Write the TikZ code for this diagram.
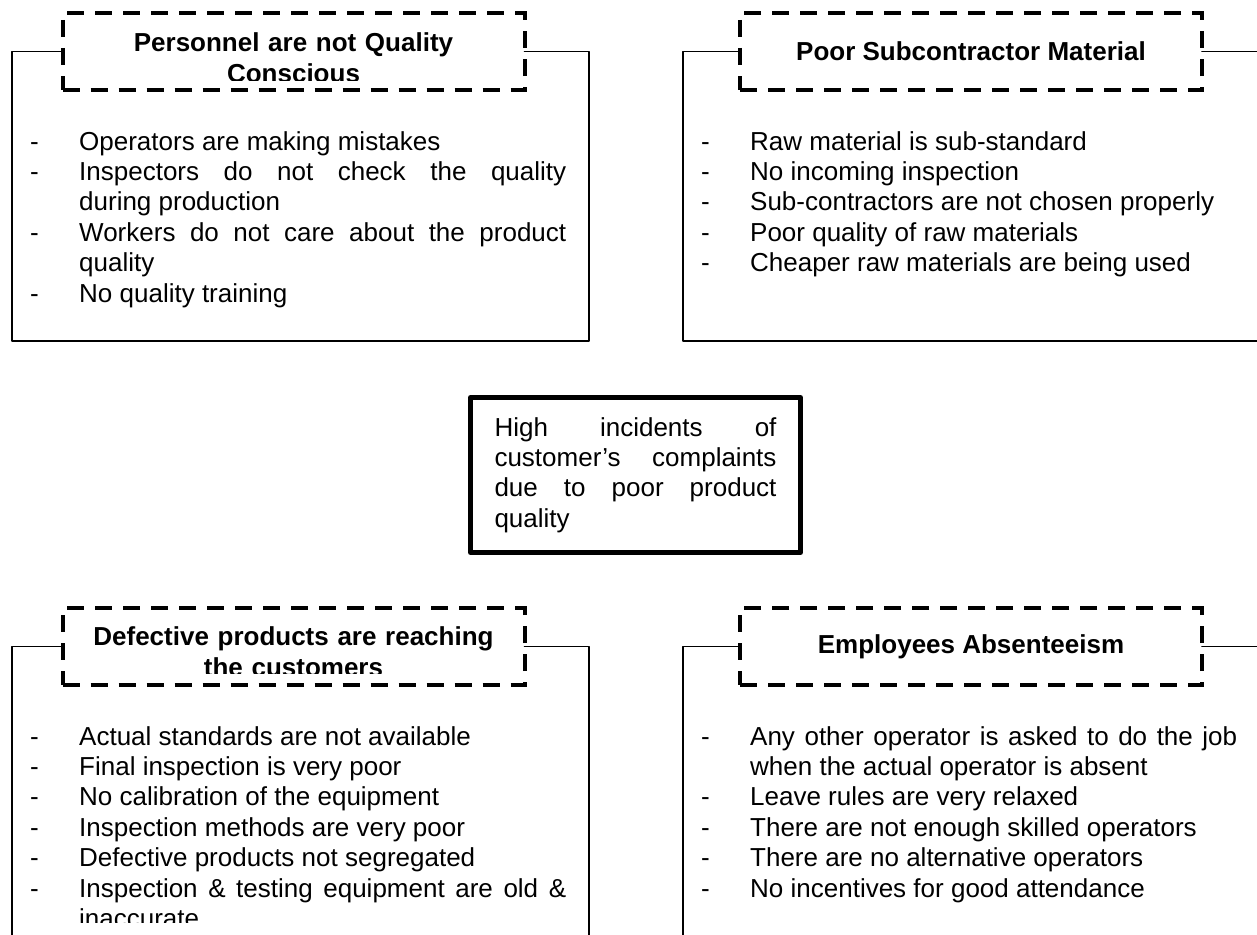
\documentclass[tikz,border=0pt]{standalone}
\usepackage{fontspec}
\setmainfont{Liberation Sans}
\usepackage{tikz}
\newcommand{\boxfont}{\fontsize{26}{30.4}\selectfont\tolerance=10000\hyphenpenalty=10000\exhyphenpenalty=10000}
\newcommand{\titlefont}{\fontsize{26}{31}\selectfont\bfseries}
\newcommand{\itm}[1]{\hangindent=49pt\hangafter=1\makebox[49pt][l]{-}#1\par}

\begin{document}
\begin{tikzpicture}[x=1pt, y=-1pt, line cap=round, line join=round,
	frm/.style={line width=1.6pt},
	hd/.style={draw, line width=4pt, dash pattern=on 17pt off 11pt, line cap=butt, line join=miter,
		minimum width=462pt, minimum height=77pt, inner sep=0pt, outer sep=0pt, font=\titlefont},
	ttl/.style={anchor=base, inner sep=0pt, text width=440pt, align=center, font=\titlefont},
	lst/.style={anchor=base west, inner sep=0pt, text width=536pt, align=justify, font=\boxfont},
	core/.style={draw, line width=5pt, minimum width=330pt, minimum height=155pt, inner sep=0pt,
		text width=282pt, align=justify, font=\boxfont}]
				\useasboundingbox (0,0) rectangle (1257,934);
				\clip (0,0) rectangle (1257,934);
				\node[hd] (h1) at (293.5,51.5) {};
				\node[hd] (h2) at (971,51.5) {Poor Subcontractor Material};
				\node[hd] (h3) at (293.5,646.5) {};
				\node[hd] (h4) at (971,646.5) {Employees Absenteeism};
				\begin{scope}
					\clip (62,13) rectangle (525,80);
					\node[ttl] (t1) at (293.5,52) {Personnel are not Quality\\Conscious};
				\end{scope}
				\begin{scope}
					\clip (62,608) rectangle (525,673);
					\node[ttl] (t3) at (293.5,645) {Defective products are reaching\\the customers};
				\end{scope}
				\draw[frm] (h1.west) -| (12,341) -| (589,51.5) -- (h1.east);
				\draw[frm] (h2.west) -| (683,341) -| (1270,51.5) -- (h2.east);
				\draw[frm] (h3.west) -| (12,950) -| (589,646.5) -- (h3.east);
				\draw[frm] (h4.west) -| (683,950) -| (1270,646.5) -- (h4.east);
				\node[core] (c) at (635.5,475) {High incidents of\linebreak customer’s complaints\linebreak due to poor product\linebreak quality};
				\node[lst] (l1) at (30,150) {\itm{Operators are making mistakes}\itm{Inspectors do not check the quality\linebreak during production}\itm{Workers do not care about the product\linebreak quality}\itm{No quality training}};
				\node[lst] (l2) at (701,150) {\itm{Raw material is sub-standard}\itm{No incoming inspection}\itm{Sub-contractors are not chosen properly}\itm{Poor quality of raw materials}\itm{Cheaper raw materials are being used}};
				\begin{scope}
					\clip (0,0) rectangle (1257,922);
					\node[lst] (l3) at (30,745) {\itm{Actual standards are not available}\itm{Final inspection is very poor}\itm{No calibration of the equipment}\itm{Inspection methods are very poor}\itm{Defective products not segregated}\itm{Inspection \& testing equipment are old \&\linebreak inaccurate}};
					\node[lst] (l4) at (701,745) {\itm{Any other operator is asked to do the job\linebreak when the actual operator is absent}\itm{Leave rules are very relaxed}\itm{There are not enough skilled operators}\itm{There are no alternative operators}\itm{No incentives for good attendance}};
				\end{scope}
			\end{tikzpicture}
\end{document}
